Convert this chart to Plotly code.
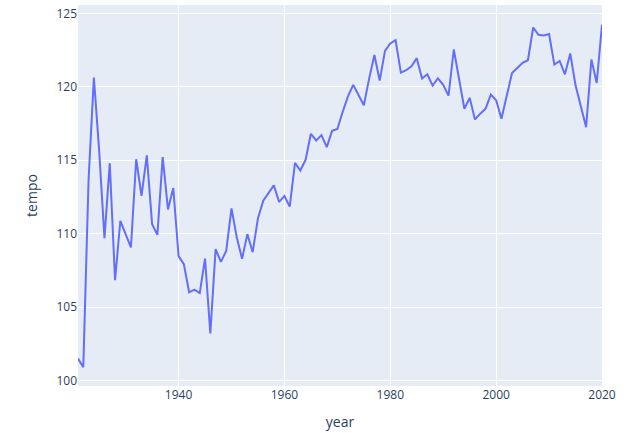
import plotly.graph_objects as go

years = list(range(1921, 2021))
tempo = [
    101.50, 100.91, 113.7, 120.63, 115.66, 109.70, 114.80, 106.83, 110.88, 109.97,
    109.06, 115.07, 112.57, 115.34, 110.65, 109.92, 115.21, 111.65, 113.11, 108.47,
    107.92, 106.01, 106.19, 105.96, 108.30, 103.21, 108.95, 108.08, 108.83, 111.72,
    109.74, 108.29, 109.97, 108.74, 111.06, 112.25, 112.75, 113.29, 112.16, 112.57,
    111.84, 114.82, 114.30, 115.03, 116.80, 116.35, 116.71, 115.89, 117.00, 117.13,
    118.28, 119.35, 120.13, 119.42, 118.74, 120.56, 122.17, 120.42, 122.45, 122.95,
    123.18, 120.97, 121.13, 121.40, 121.95, 120.56, 120.85, 120.08, 120.58, 120.13,
    119.40, 122.54, 120.60, 118.51, 119.25, 117.78, 118.17, 118.51, 119.47, 119.08,
    117.83, 119.30, 120.94, 121.28, 121.63, 121.81, 124.04, 123.54, 123.50, 123.59,
    121.51, 121.76, 120.85, 122.27, 120.10, 118.67, 117.25, 121.86, 120.26, 124.22,
]

fig = go.Figure(
    go.Scatter(x=years, y=tempo, mode="lines", line=dict(color="#636efa", width=2))
)
fig.update_layout(
    template="plotly",
    width=626,
    height=433,
    margin=dict(l=78, r=24, t=5, b=47),
    showlegend=False,
)
fig.update_xaxes(title_text="year", range=[1921, 2020], automargin=False)
fig.update_yaxes(title_text="tempo", range=[99.63, 125.57], automargin=False)
fig.write_html(
    "out.html",
    config={"displayModeBar": False},
    post_script="document.body.style.margin='0';document.body.style.overflow='hidden';",
)
